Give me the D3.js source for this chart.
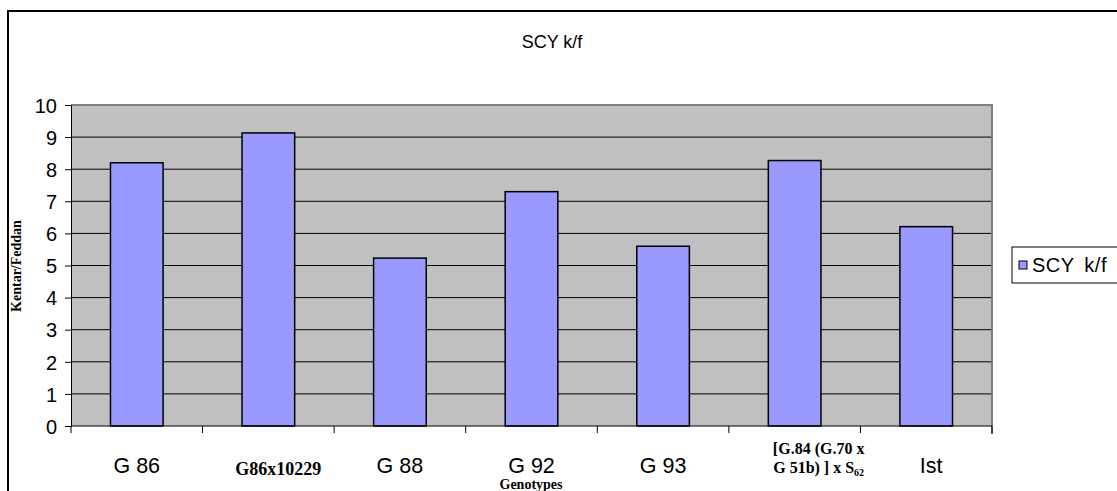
<!DOCTYPE html>
<html>
<head>
<meta charset="utf-8">
<script src="https://cdn.jsdelivr.net/npm/d3@7"></script>
<style>
  body { margin: 0; background: #fff; }
</style>
</head>
<body>
<script>
// Chart data
const genotypes = ["G 86", "G86x10229", "G 88", "G 92", "G 93", "[G.84 (G.70 x G 51b) ] x S62", "Ist"];
const scyValues = [8.2, 9.13, 5.23, 7.3, 5.6, 8.27, 6.21];
const yTicks = [0, 1, 2, 3, 4, 5, 6, 7, 8, 9, 10];
const seriesName = "SCY k/f";

const canvWidth = 1117, canvHeight = 491;
const svg = d3.select("body").append("svg")
    .attr("width", canvWidth)
    .attr("height", canvHeight);

// outer chart frame (runs off the right and bottom edge)
svg.append("path")
    .attr("d", "M8,500 L8,11 L1130,11")
    .attr("fill", "none")
    .attr("stroke", "#000")
    .attr("stroke-width", 2);

const plot = {left: 71, right: 992, top: 105, bottom: 426};

const xScale = d3.scaleBand()
    .domain(genotypes)
    .range([plot.left, plot.right])
    .paddingInner(0.6)
    .paddingOuter(0.3);
const bandStep = (plot.right - plot.left) / genotypes.length;

const yScale = d3.scaleLinear()
    .domain([0, 10])
    .range([plot.bottom, plot.top]);

// plot background
svg.append("rect")
    .attr("x", plot.left)
    .attr("y", plot.top)
    .attr("width", plot.right - plot.left)
    .attr("height", plot.bottom - plot.top)
    .attr("fill", "#c0c0c0");

// gridlines
svg.append("g")
    .selectAll("line")
    .data(yTicks.slice(1, -1))
    .enter().append("line")
    .attr("x1", plot.left)
    .attr("x2", plot.right)
    .attr("y1", d => yScale(d))
    .attr("y2", d => yScale(d))
    .attr("stroke", "#000")
    .attr("stroke-width", 1);

// top and right border of plot area
svg.append("path")
    .attr("d", `M${plot.left},${plot.top} H${plot.right} V${plot.bottom + 8}`)
    .attr("fill", "none")
    .attr("stroke", "#808080")
    .attr("stroke-width", 2);

// bars
svg.append("g")
    .selectAll("rect")
    .data(genotypes)
    .enter().append("rect")
    .attr("x", d => xScale(d))
    .attr("width", xScale.bandwidth())
    .attr("y", (d, i) => yScale(scyValues[i]))
    .attr("height", (d, i) => plot.bottom - yScale(scyValues[i]))
    .attr("fill", "#9999ff")
    .attr("stroke", "#000")
    .attr("stroke-width", 1.5);

// y axis
const yAxis = d3.axisLeft(yScale).tickValues(yTicks).tickSize(6).tickPadding(8);
const yG = svg.append("g")
    .attr("transform", `translate(${plot.left},0)`)
    .call(yAxis);
yG.select(".domain").attr("stroke", "#000");
yG.selectAll(".tick line").attr("stroke", "#000");
yG.selectAll("text")
    .attr("font-family", "Liberation Sans, Arial, sans-serif")
    .attr("font-size", "20px")
    .attr("fill", "#000")
    .attr("dy", "0.36em");

// x axis line and ticks at category boundaries
svg.append("line")
    .attr("x1", plot.left).attr("x2", plot.right)
    .attr("y1", plot.bottom).attr("y2", plot.bottom)
    .attr("stroke", "#000");
svg.append("g")
    .selectAll("line")
    .data(d3.range(genotypes.length + 1))
    .enter().append("line")
    .attr("x1", i => plot.left + i * bandStep)
    .attr("x2", i => plot.left + i * bandStep)
    .attr("y1", plot.bottom)
    .attr("y2", plot.bottom + 7)
    .attr("stroke", "#000");

// category labels
const catCenter = d => xScale(d) + xScale.bandwidth() / 2;
const sans = "Liberation Sans, Arial, sans-serif";
const serif = "Liberation Serif, Times New Roman, serif";

function plainLabel(name, dx) {
    svg.append("text")
        .attr("x", catCenter(name) + dx)
        .attr("y", 473)
        .attr("text-anchor", "middle")
        .attr("font-family", sans)
        .attr("font-size", "21.5px")
        .text(name);
}
plainLabel(genotypes[0], 0);
plainLabel(genotypes[2], 0);
plainLabel(genotypes[3], 0);
plainLabel(genotypes[4], 0);
plainLabel(genotypes[6], 5);

svg.append("text")
    .attr("x", catCenter(genotypes[1]) + 10)
    .attr("y", 475)
    .attr("text-anchor", "middle")
    .attr("font-family", serif)
    .attr("font-weight", "bold")
    .attr("font-size", "18px")
    .text(genotypes[1]);

const multi = svg.append("g")
    .attr("font-family", serif)
    .attr("font-weight", "bold")
    .attr("font-size", "16px")
    .attr("text-anchor", "middle");
multi.append("text")
    .attr("x", catCenter(genotypes[5]) + 24)
    .attr("y", 454)
    .text("[G.84 (G.70 x");
const line2 = multi.append("text")
    .attr("x", catCenter(genotypes[5]) + 24)
    .attr("y", 473);
line2.append("tspan").text("G 51b) ] x S");
line2.append("tspan").attr("font-size", "10px").attr("dy", 3).text("62");

// axis titles
svg.append("text")
    .attr("x", 531)
    .attr("y", 489)
    .attr("text-anchor", "middle")
    .attr("font-family", serif)
    .attr("font-weight", "bold")
    .attr("font-size", "14px")
    .text("Genotypes");

svg.append("text")
    .attr("transform", "translate(21,266) rotate(-90)")
    .attr("text-anchor", "middle")
    .attr("font-family", serif)
    .attr("font-weight", "bold")
    .attr("font-size", "14px")
    .text("Kentar/Feddan");

// chart title
svg.append("text")
    .attr("x", 552)
    .attr("y", 48)
    .attr("text-anchor", "middle")
    .attr("font-family", sans)
    .attr("font-size", "18px")
    .text(seriesName);

// legend
const legend = svg.append("g").attr("transform", "translate(1012,247)");
legend.append("rect")
    .attr("width", 140).attr("height", 36)
    .attr("fill", "#fff")
    .attr("stroke", "#000")
    .attr("stroke-width", 1);
legend.append("rect")
    .attr("x", 7).attr("y", 14)
    .attr("width", 8).attr("height", 8)
    .attr("fill", "#9999ff")
    .attr("stroke", "#000");
legend.append("text")
    .attr("x", 20).attr("y", 25)
    .attr("font-family", sans)
    .attr("font-size", "20px")
    .attr("word-spacing", "4px")
    .attr("letter-spacing", "0.5px")
    .text(seriesName);
</script>
</body>
</html>
